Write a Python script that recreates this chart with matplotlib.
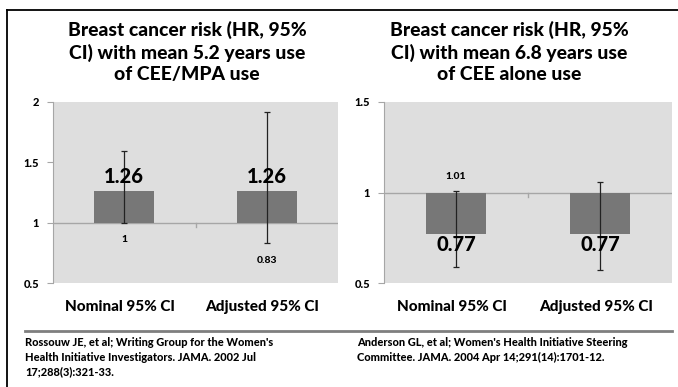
import matplotlib
matplotlib.use('Agg')
import matplotlib.pyplot as plt
from matplotlib.lines import Line2D
import matplotlib.transforms as mtransforms

plt.rcParams['font.family'] = ['Lato', 'DejaVu Sans']
WT = 850

# data
categories = ['Nominal 95% CI', 'Adjusted 95% CI']
hr_left = [1.26, 1.26]
ci_low_left = [1.00, 0.83]
ci_high_left = [1.59, 1.92]
hr_right = [0.77, 0.77]
ci_low_right = [0.59, 0.57]
ci_high_right = [1.01, 1.06]
title_left = 'Breast cancer risk (HR, 95%\nCI) with mean 5.2 years use\nof CEE/MPA use'
title_right = 'Breast cancer risk (HR, 95%\nCI) with mean 6.8 years use\nof CEE alone use'
cite_left = ("Rossouw JE, et al; Writing Group for the Women's\n"
             "Health Initiative Investigators. JAMA. 2002 Jul\n"
             "17;288(3):321-33.")
cite_right = ("Anderson GL, et al; Women's Health Initiative Steering\n"
              "Committee. JAMA. 2004 Apr 14;291(14):1701-12.")

W, H = 678, 387
fig = plt.figure(figsize=(W / 100, H / 100), dpi=100)
fig.patch.set_facecolor('white')

def px_axes(x0, x1, y0, y1):
    return fig.add_axes([x0 / W, 1 - y1 / H, (x1 - x0) / W, (y1 - y0) / H])

BG = '#dedede'
BAR = '#777777'
LINE = '#a6a6a6'

def panel(ax, hr, lo, hi, ylim, yticks, big_above, small_labels):
    x = list(range(len(categories)))
    ax.set_facecolor(BG)
    ax.bar(x, [v - 1 for v in hr], bottom=1, width=0.42, color=BAR, zorder=2)
    yerr = [[v - l for v, l in zip(hr, lo)], [h - v for v, h in zip(hr, hi)]]
    ax.errorbar(x, hr, yerr=yerr, fmt='none', ecolor='#222222', elinewidth=0.9,
                capsize=2.5, capthick=0.9, zorder=3)
    ax.axhline(1, color=LINE, lw=1, zorder=1)
    ax.plot([0.5, 0.5], [1, 1 - (ylim[1] - ylim[0]) * 0.025], color=LINE, lw=1, zorder=1)
    ax.set_xlim(-0.5, 1.5)
    ax.set_ylim(*ylim)
    ax.set_yticks(yticks)
    ax.set_yticklabels([('%g' % t) for t in yticks], fontsize=8, fontweight=WT)
    ax.set_xticks([])
    for s in ['top', 'right', 'bottom']:
        ax.spines[s].set_visible(False)
    ax.spines['left'].set_color(LINE)
    ax.tick_params(axis='y', length=4, color=LINE, pad=6)
    for i, v in enumerate(hr):
        ax.text(i, big_above[i], '%.2f' % v, ha='center', va='center',
                fontsize=14.5, fontweight=WT, zorder=4)
    for i, (txt, yy) in enumerate(small_labels):
        if txt:
            ax.text(i, yy, txt, ha='center', va='center', fontsize=7.5,
                    fontweight=WT, zorder=4)
    trans = mtransforms.blended_transform_factory(ax.transData, ax.transAxes)
    for i, c in enumerate(categories):
        ax.text(i - 0.03, -0.135, c, transform=trans, ha='center', va='center',
                fontsize=11, fontweight=WT)

ax1 = px_axes(53, 338, 102, 283)
panel(ax1, hr_left, ci_low_left, ci_high_left, (0.5, 2), [0.5, 1, 1.5, 2],
      [1.38, 1.38], [('%g' % ci_low_left[0], 0.86), ('%g' % ci_low_left[1], 0.69)])

ax2 = px_axes(384, 672, 102, 283)
panel(ax2, hr_right, ci_low_right, ci_high_right, (0.5, 1.5), [0.5, 1, 1.5],
      [0.71, 0.71], [('%g' % ci_high_right[0], 1.09), ('', 0)])

fig.text(187 / W, 1 - 21 / H, title_left, ha='center', va='top',
         fontsize=13.9, fontweight=WT, linespacing=1.3)
fig.text(509 / W, 1 - 21 / H, title_right, ha='center', va='top',
         fontsize=13.9, fontweight=WT, linespacing=1.3)

fig.text(25 / W, 1 - 337 / H, cite_left, ha='left', va='top', fontsize=7.9,
         fontweight=WT, linespacing=1.4)
fig.text(357 / W, 1 - 337 / H, cite_right, ha='left', va='top', fontsize=7.9,
         fontweight=WT, linespacing=1.4)

# frame and separator lines
fig.add_artist(Line2D([7 / W, 7 / W], [0, 1 - 10 / H], color='black', lw=1.3))
fig.add_artist(Line2D([7 / W, 1], [1 - 10 / H, 1 - 10 / H], color='black', lw=1.3))
fig.add_artist(Line2D([25 / W, 672 / W], [1 - 331 / H, 1 - 331 / H], color='#7f7f7f', lw=2))

fig.savefig('out.png', dpi=100)
